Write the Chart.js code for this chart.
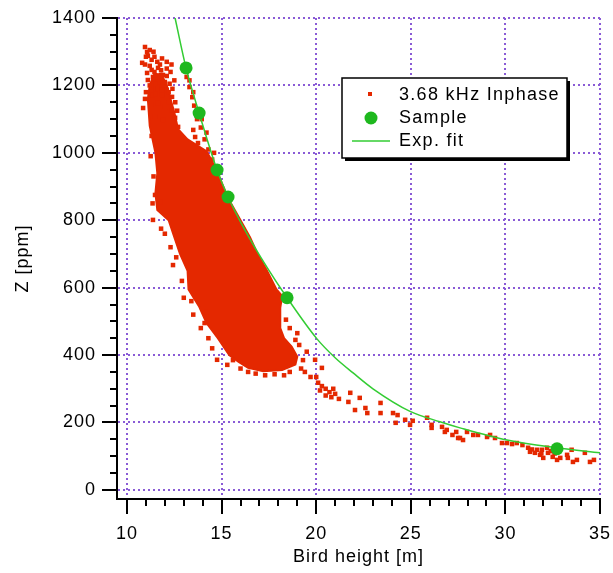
<!DOCTYPE html>
<html>
<head>
<meta charset="utf-8">
<title>Z vs bird height</title>
<script src="https://cdn.jsdelivr.net/npm/chart.js@4.4.1/dist/chart.umd.min.js"></script>
<style>
  html, body { margin: 0; padding: 0; background: #fff; }
  #wrap { width: 613px; height: 573px; }
</style>
</head>
<body>
<div id="wrap"><canvas id="zChart" width="613" height="573"></canvas></div>
<script>
/* tick labels */
const xTicks = [10, 15, 20, 25, 30, 35];
const yTicks = [0, 200, 400, 600, 800, 1000, 1200, 1400];

/* 3.68 kHz inphase: outline of the solid part of the cloud [height, Z] */
const inphaseCore = [
  [11.4, 1230], [11.2, 1200], [11.1, 1160], [11.2, 1080], [11.5, 1000], [11.6, 940],
  [11.5, 880], [11.6, 830], [12.2, 800], [12.5, 750], [12.8, 700], [13.2, 650],
  [13.25, 595], [13.8, 545], [14.2, 495], [14.8, 450], [15.4, 400], [15.9, 380],
  [16.4, 362], [17.2, 352], [18.2, 356], [18.9, 372], [19.0, 395], [18.7, 425],
  [18.3, 450], [18.1, 480], [18.1, 540], [18.2, 575], [17.9, 595], [17.4, 650],
  [16.9, 700], [16.5, 750], [16.0, 800], [15.5, 850], [15.2, 885], [14.8, 940],
  [14.5, 975], [14.2, 1005], [13.2, 1040], [12.7, 1070], [12.5, 1120], [12.3, 1160],
  [12.1, 1200], [11.8, 1235], [11.4, 1230]
];

/* 3.68 kHz inphase: single readings around and outside the solid part */
const inphasePoints = [
  // sparse top
  [10.95, 1314], [11.06, 1299], [11.1, 1288], [10.8, 1267], [10.95, 1262], [11.3, 1276],
  [11.6, 1270], [11.74, 1262], [12.1, 1270], [11.3, 1246], [11.64, 1252], [12.1, 1250],
  [11.06, 1237], [11.37, 1225], [11.9, 1231], [12.1, 1228], [11.1, 1216], [11.64, 1210],
  [12.0, 1210], [11.3, 1192], [11.6, 1192], [11.85, 1187], [12.1, 1187], [11.37, 1172],
  [11.85, 1172], [12.38, 1166], [10.85, 1133], [11.3, 1142], [11.64, 1148], [12.0, 1136],
  [12.38, 1127], [12.54, 1104], [12.7, 1077], [11.48, 1107], [11.9, 1098], [12.2, 1180],
  [11.5, 1230], [11.8, 1245], [12.25, 1205], [12.2, 1150], [11.2, 1305], [11.45, 1285],
  [11.2, 1258], [11.45, 1240], [11.75, 1225], [12.3, 1240], [11.2, 1200], [11.5, 1205],
  [12.4, 1190], [11.0, 1180], [11.5, 1175], [10.95, 1160], [12.55, 1150], [12.65, 1125],
  [11.0, 1285], [11.4, 1300], [11.85, 1280], [12.35, 1262], [12.5, 1215],
  // strip along the fit
  [13.15, 1225], [13.3, 1195], [13.45, 1165], [13.55, 1140], [13.7, 1100], [13.9, 1075],
  [14.1, 1040], [14.3, 1010], [14.5, 980], [13.5, 1068], [13.6, 1047], [13.75, 1029],
  [13.3, 1215], [13.5, 1180], [13.95, 1100], [14.2, 1060], [14.6, 1000],
  // ragged edges
  [11.3, 1050], [11.25, 990], [11.4, 930], [11.48, 875], [11.35, 850], [11.74, 854],
  [11.37, 801], [11.8, 775], [12.0, 760], [12.3, 720], [12.43, 667], [12.6, 690],
  [12.9, 620], [13.0, 570], [13.4, 560], [13.5, 520], [13.9, 480], [14.1, 495],
  [14.2, 528], [14.3, 450], [14.5, 420], [14.76, 386], [15.3, 371], [15.6, 385],
  [16.0, 360], [16.4, 350], [16.8, 345], [17.3, 340], [17.8, 343], [18.3, 340],
  [18.6, 350], [19.2, 360], [19.3, 385], [19.5, 410], [19.1, 430], [18.9, 445],
  [19.0, 465], [18.6, 480], [18.4, 505],
  // tail
  [19.4, 350], [19.7, 335], [19.94, 386], [20.3, 362], [20.0, 335], [20.1, 318],
  [20.3, 308], [20.2, 295], [20.5, 300], [20.7, 290], [20.5, 280], [20.8, 275],
  [21.0, 285], [21.2, 270], [20.9, 300], [21.8, 288], [22.3, 273], [21.7, 261],
  [22.05, 237], [22.6, 243], [22.7, 228], [23.4, 258], [23.4, 228], [24.06, 228],
  [24.3, 222], [24.2, 199], [24.7, 208], [24.96, 193], [25.1, 205], [25.86, 214],
  [26.1, 193], [26.1, 184], [26.65, 187], [26.9, 178], [26.8, 172], [27.2, 163],
  [27.4, 172], [27.5, 154], [27.6, 154], [27.76, 148], [27.97, 172], [28.3, 163],
  [28.55, 163], [29.03, 157], [29.19, 163], [29.45, 154], [29.82, 139], [30.08, 139],
  [30.35, 136], [30.6, 139], [30.9, 133], [31.2, 125], [31.3, 113], [31.56, 110],
  [31.67, 119], [31.93, 119], [31.83, 104], [32.2, 125], [32.25, 110], [32.5, 98],
  [32.73, 89], [32.9, 95], [33.26, 104], [33.3, 95], [33.57, 83], [33.78, 89],
  [34.2, 110], [34.47, 83], [34.68, 89], [33.5, 119], [31.4, 120], [31.9, 108],
  [32.4, 115], [32.0, 95], [32.6, 108]
];

/* samples */
const sampleX = [13.12, 13.81, 14.76, 15.34, 18.46, 32.73];
const sampleZ = [1252, 1118, 949, 869, 570, 122];

/* exponential fit */
const fitX = [12.54, 13.12, 13.81, 14.76, 15.34, 16.24, 17.4, 18.46, 20.04, 21.0, 21.95, 23.0, 24.96, 26.54, 27.6, 30.08, 32.73, 35];
const fitZ = [1400, 1252, 1118, 949, 869, 770, 660, 570, 448, 392, 347, 300, 233, 202, 184, 148, 125, 110];

const RED = '#e42800';
const GREEN = '#1eb81e';
const FIT_GREEN = '#33cc33';
const GRID = '#8a5bd6';

const toXY = arr => arr.map(p => ({ x: p[0], y: p[1] }));

/* draw major/minor ticks + the boxed legend */
const decorPlugin = {
  id: 'decor',
  beforeDraw(chart) {
    chart.ctx.letterSpacing = '1px';
  },
  afterDraw(chart) {
    const ctx = chart.ctx;
    const xs = chart.scales.x;
    const ys = chart.scales.y;
    ctx.save();
    ctx.strokeStyle = '#000';
    ctx.lineWidth = 2;
    ctx.beginPath();
    for (let v = xTicks[0]; v <= xTicks[xTicks.length - 1]; v += 1) {
      const px = Math.round(xs.getPixelForValue(v));
      const len = (v % 5 === 0) ? 15 : 7;
      ctx.moveTo(px, ys.bottom);
      ctx.lineTo(px, ys.bottom + len);
    }
    for (let v = yTicks[0]; v <= yTicks[yTicks.length - 1]; v += 50) {
      const py = Math.round(ys.getPixelForValue(v));
      const len = (v % 200 === 0) ? 15 : 7;
      ctx.moveTo(xs.left - len, py);
      ctx.lineTo(xs.left, py);
    }
    ctx.stroke();

    // legend box with shadow
    const bx = 342, by = 78, bw = 225, bh = 80;
    ctx.fillStyle = '#000';
    ctx.fillRect(bx + 3, by + 3, bw, bh);
    ctx.fillStyle = '#fff';
    ctx.fillRect(bx, by, bw, bh);
    ctx.lineWidth = 1.5;
    ctx.strokeRect(bx, by, bw, bh);

    ctx.fillStyle = RED;
    ctx.fillRect(368, 92, 4, 4);
    ctx.fillStyle = GREEN;
    ctx.beginPath();
    ctx.arc(371, 118, 6.5, 0, Math.PI * 2);
    ctx.fill();
    ctx.strokeStyle = FIT_GREEN;
    ctx.lineWidth = 1.5;
    ctx.beginPath();
    ctx.moveTo(352, 141);
    ctx.lineTo(390, 141);
    ctx.stroke();

    ctx.fillStyle = '#000';
    ctx.font = '18px "Liberation Sans", Arial, sans-serif';
    ctx.letterSpacing = '1.3px';
    ctx.textBaseline = 'middle';
    ctx.textAlign = 'left';
    ctx.fillText('3.68 kHz Inphase', 399, 95);
    ctx.fillText('Sample', 399, 118);
    ctx.fillText('Exp. fit', 399, 141);
    ctx.restore();
  }
};

Chart.defaults.font.family = '"Liberation Sans", Arial, sans-serif';
Chart.defaults.font.size = 18;
Chart.defaults.color = '#000';

const zCtx = document.getElementById('zChart').getContext('2d');
const zChart = new Chart(zCtx, {
  type: 'scatter',
  data: {
    datasets: [
      {
        label: 'Sample',
        data: sampleX.map((x, i) => ({ x: x, y: sampleZ[i] })),
        backgroundColor: GREEN,
        borderWidth: 0,
        pointRadius: 6.5
      },
      {
        label: 'Exp. fit',
        data: fitX.map((x, i) => ({ x: x, y: fitZ[i] })),
        showLine: true,
        borderColor: FIT_GREEN,
        borderWidth: 1.5,
        pointRadius: 0,
        cubicInterpolationMode: 'monotone'
      },
      {
        label: '3.68 kHz Inphase',
        data: toXY(inphasePoints),
        backgroundColor: RED,
        borderWidth: 0,
        pointStyle: 'rect',
        pointRadius: 3.2
      },
      {
        label: '3.68 kHz Inphase core',
        data: toXY(inphaseCore),
        showLine: true,
        fill: 'shape',
        backgroundColor: RED,
        borderColor: RED,
        borderWidth: 2,
        pointRadius: 0,
        tension: 0
      }
    ]
  },
  options: {
    responsive: false,
    animation: false,
    layout: { padding: { top: 18, right: 13, left: 0, bottom: 0 } },
    plugins: { legend: { display: false }, tooltip: { enabled: false } },
    scales: {
      x: {
        type: 'linear',
        min: 9.47,
        max: 35,
        afterBuildTicks: s => { s.ticks = xTicks.map(v => ({ value: v })); },
        afterFit: s => { s.height = 74; s.paddingLeft = 0; s.paddingRight = 0; },
        ticks: { padding: 24, maxRotation: 0, callback: v => String(v) },
        grid: { color: GRID, lineWidth: 2, drawTicks: false },
        border: { color: '#000', width: 2, dash: [2, 3] },
        title: { display: true, text: 'Bird height [m]', padding: { top: 0, bottom: 5 } }
      },
      y: {
        type: 'linear',
        min: -27,
        max: 1400,
        afterBuildTicks: s => { s.ticks = yTicks.map(v => ({ value: v })); },
        afterFit: s => { s.width = 117; s.paddingTop = 0; s.paddingBottom = 0; },
        ticks: { padding: 21, callback: v => String(v) },
        grid: { color: GRID, lineWidth: 2, drawTicks: false },
        border: { color: '#000', width: 2, dash: [2, 3] },
        title: { display: true, text: 'Z [ppm]', padding: { top: 12, bottom: 0 } }
      }
    }
  },
  plugins: [decorPlugin]
});
</script>
</body>
</html>
